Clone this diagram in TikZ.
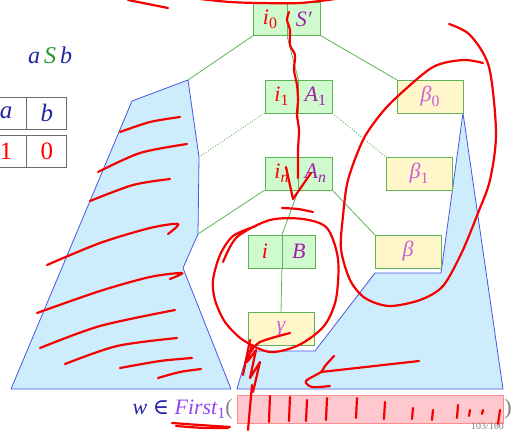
\documentclass[tikz,border=0pt]{standalone}
\usepackage{fontspec}
\setmainfont{Liberation Serif}
\newfontfamily\symbfont{DejaVu Serif}
\usepackage{tikz}
\usetikzlibrary{positioning}
\definecolor{cellgreen}{RGB}{206,250,206}
\definecolor{edgegreen}{RGB}{95,180,85}
\definecolor{cellyellow}{RGB}{255,246,202}
\definecolor{treeblue}{RGB}{206,237,252}
\definecolor{lineblue}{RGB}{75,85,225}
\definecolor{symbpurple}{RGB}{165,30,175}
\definecolor{betapurple}{RGB}{205,95,215}
\definecolor{firstviolet}{RGB}{150,70,240}
\definecolor{textblue}{RGB}{35,35,165}
\definecolor{sgreen}{RGB}{40,150,40}
\definecolor{pinkbox}{RGB}{255,200,206}
\definecolor{inkred}{RGB}{245,0,0}
\newcommand{\sub}[1]{\raisebox{-0.2em}{\scalebox{0.72}{\upshape #1}}}
\tikzstyle{cell} = [rectangle, draw=edgegreen, fill=cellgreen, minimum width=33.5pt, minimum height=33pt, inner sep=0pt, font=\fontsize{22}{25}\selectfont\itshape]
\tikzstyle{leaf} = [cell, fill=cellyellow, minimum width=66pt, text=betapurple]
\tikzstyle{tcell} = [rectangle, draw=gray!85!black, line width=0.9pt, minimum width=40pt, minimum height=32pt, inner sep=0pt, font=\fontsize{25}{28}\selectfont]
\tikzstyle{subtree} = [draw=lineblue, fill=treeblue, line width=0.8pt, line join=round]
\tikzstyle{edge} = [edgegreen, line width=0.8pt]
\tikzstyle{dotedge} = [edge, dotted, line width=1.1pt]
\tikzstyle{ink} = [inkred, line width=2.2pt, line cap=round, line join=round]

\begin{document}
\begin{tikzpicture}[x=1pt, y=-1pt]
\useasboundingbox (0,0) rectangle (512,432);

% shaded subtrees
\coordinate (L1) at (188,80);
\coordinate (L2) at (199,157);
\coordinate (L3) at (198,234);
\draw [subtree] (L1) -- (132,101) -- (11,389) -- (231,389) -- (183,268) -- (L3) -- (L2) -- cycle;
\draw [subtree] (237,389) -- (248,351) -- (315,351) -- (375,273) -- (441,273) -- (463,113) -- (503,389) -- cycle;

% tree nodes
\node (i0) [cell, text=red] at (270,19) {i\sub{0}};
\node (S0) [cell, text=symbpurple, right=0pt of i0] {S′};
\node (i1) [cell, text=red] at (281.5,96.5) {i\sub{1}};
\node (A1) [cell, text=symbpurple, right=0pt of i1] {A\sub{1}};
\node (b0) [leaf] at (430,96.5) {β\sub{0}};
\node (in) [cell, text=red] at (281.5,173.5) {i\sub{\itshape n}};
\node (An) [cell, text=symbpurple, right=0pt of in] {A\sub{\itshape n}};
\node (b1) [leaf] at (419,173.5) {β\sub{1}};
\node (ii) [cell, text=red] at (265,251.5) {i};
\node (B) [cell, text=symbpurple, right=0pt of ii] {B};
\node (b) [leaf] at (408,251.5) {β};
\node (g) [leaf] at (281,328.5) {γ};

\draw [edge] (i0.south west) -- (L1);
\draw [edge] (i0.south east) -- (i1.north east);
\draw [edge] (S0.south east) -- (b0.north west);
\draw [dotedge] (i1.south west) -- (L2);
\draw [dotedge] (i1.south east) -- (in.north east);
\draw [dotedge] (A1.south east) -- (b1.north west);
\draw [edge] (in.south west) -- (L3);
\draw [edge] (in.south east) -- (ii.north east);
\draw [edge] (An.south east) -- (b.north west);
\draw [edge] (ii.south east) -- (g.north);

% sentential form and lookahead table
\node (aSb) at (50,55) {\fontsize{24}{28}\selectfont\itshape\textcolor{textblue}{a}\,\textcolor{sgreen}{S}\,\textcolor{textblue}{b}};
\node (ta) [tcell, text=textblue] at (6,113) {\itshape a};
\node (tb) [tcell, text=textblue, right=0pt of ta] {\itshape b};
\node (t1) [tcell, text=red] at (6,151) {1};
\node (t0) [tcell, text=red, right=0pt of t1] {0};

% First set
\node (w) [rectangle, fill=pinkbox, draw=red!45, minimum width=266pt, minimum height=28pt, inner sep=0pt] at (370,409) {};
\node (first) [left=4pt of w, inner sep=0pt, font=\fontsize{22}{25}\selectfont] {\textcolor{textblue}{\itshape w} {\symbfont\color{textblue}∈} \textcolor{firstviolet}{\itshape First\sub{1}}\textcolor{gray}{(}};
\node (close) [right=1pt of w, inner sep=0pt, text=gray, font=\fontsize{22}{25}\selectfont] {)};
\node (page) [anchor=west, inner sep=0pt, text=gray, font=\fontsize{10}{12}\selectfont] at (471,426.5) {103/160};

% red pen marks
\draw [ink] plot[smooth] coordinates {(128,0) (148,4) (168,8)};
\draw [ink] plot[smooth] coordinates {(200,-1) (230,2) (260,3) (300,3) (335,-1)};
\draw [ink] plot[smooth] coordinates {(289,12) (287,20) (290,30) (290,45) (295,55) (294,70) (297,85) (298,100) (297,115) (299,130) (298,150) (298,178)};
\draw [ink] (286,167) -- (293,199) -- (311,173);
\draw [ink] plot[smooth] coordinates {(282,208) (298,209) (313,212)};
\draw [ink] plot[smooth] coordinates {(223,262) (237,237) (270,220) (303,219) (327,228) (338,259) (336,299) (324,326) (299,345) (270,352) (243,340) (225,322) (215,300) (213,280) (220,255) (233,236) (256,226)};
\draw [ink] plot[smooth] coordinates {(449,24) (470,35) (489,67) (496,133) (490,180) (478,213) (462,252) (443,286) (420,300) (389,306) (365,298) (350,280) (341,249) (343,216) (348,180) (363,140) (380,115) (398,96) (433,67) (463,60) (483,63)};
\draw [ink] plot[smooth] coordinates {(120,132) (150,122) (180,117)};
\draw [ink] plot[smooth] coordinates {(98,172) (140,153) (187,144)};
\draw [ink] plot[smooth] coordinates {(90,201) (133,185) (170,179)};
\draw [ink] plot[smooth] coordinates {(47,265) (100,243) (150,228) (178,224) (168,234)};
\draw [ink] plot[smooth] coordinates {(37,313) (100,291) (150,277) (182,273) (170,279)};
\draw [ink] plot[smooth] coordinates {(40,348) (100,326) (175,310)};
\draw [ink] plot[smooth] coordinates {(65,364) (117,346) (177,338)};
\draw [ink] plot[smooth] coordinates {(120,368) (160,361) (192,358)};
\draw [ink] plot[smooth] coordinates {(158,378) (180,372) (201,369)};
\draw [ink] (419,361) -- (321,372);
\draw [ink] plot[smooth] coordinates {(334,356) (325,366) (321,372) (306,381) (312,387) (330,386)};
\draw [ink] plot[smooth] coordinates {(290,333) (260,342) (250,353)};
\draw [ink] (250,340) -- (243,375);
\draw [ink] (252,345) -- (247,362) -- (256,350) -- (250,378) -- (260,362) -- (253,392);
\draw [ink] plot[smooth] coordinates {(172,423) (200,425) (230,427)};
\draw [ink] plot[smooth] coordinates {(176,426) (205,428) (228,428)};
\foreach \x/\t/\b in {270/396/422, 290/397/421, 307/400/421, 327/398/420, 357/398/418, 385/402/419, 413/408/419, 433/410/420, 458/405/418, 470/410/416, 483/410/414}
  \draw [ink] (\x,\t) -- (\x-1,\b);
\draw [ink] (252,385) -- (248,430);
\draw [ink] (500,410) -- (498,424);

\end{tikzpicture}
\end{document}
